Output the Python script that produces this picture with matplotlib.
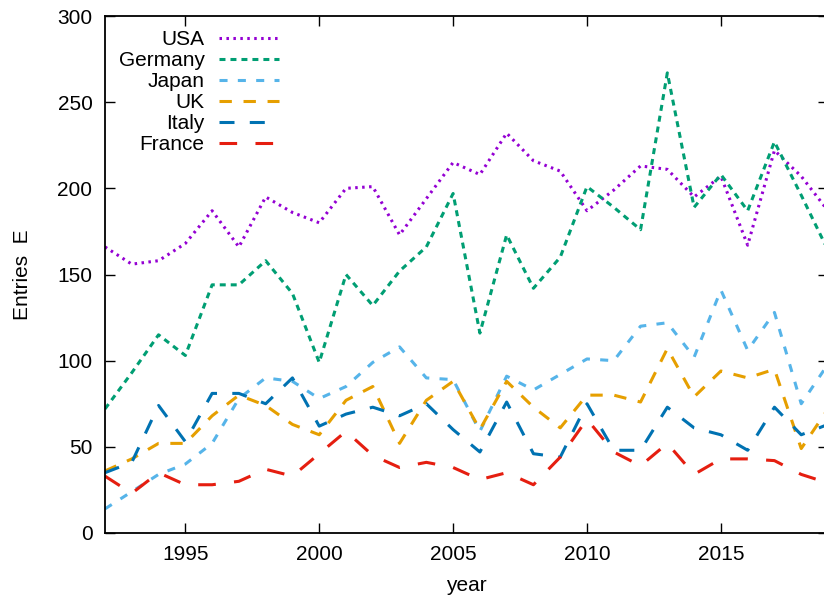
import matplotlib
matplotlib.use("Agg")
import matplotlib.pyplot as plt

# Yearly entries per country
years = list(range(1992, 2020))
usa = [166, 156, 158, 168, 187, 166, 195, 186, 180, 200, 201, 173, 194, 215,
       208, 232, 216, 210, 187, 199, 213, 211, 195, 207, 167, 222, 207, 187]
germany = [72, 93, 115, 103, 144, 144, 158, 139, 99, 150, 132, 152, 166, 197,
           116, 173, 142, 160, 201, 189, 176, 267, 189, 208, 187, 227, 196, 164]
japan = [14, 24, 34, 40, 52, 78, 90, 88, 78, 85, 99, 108, 90, 89,
         59, 91, 83, 92, 101, 100, 120, 122, 102, 141, 106, 128, 75, 98]
uk = [36, 43, 52, 52, 68, 80, 74, 63, 57, 77, 85, 52, 77, 88,
      60, 88, 73, 61, 80, 80, 76, 107, 79, 94, 90, 95, 49, 72]
italy = [35, 41, 74, 53, 81, 81, 75, 90, 62, 69, 73, 68, 75, 60,
         47, 76, 46, 44, 75, 48, 48, 73, 61, 57, 48, 73, 57, 63]
france = [33, 23, 35, 28, 28, 30, 37, 33, 46, 59, 45, 38, 41, 38,
          31, 35, 28, 44, 66, 47, 39, 52, 34, 43, 43, 42, 34, 29]

labels = ["USA", "Germany", "Japan", "UK", "Italy", "France"]
colors = ["#9400D3", "#009E73", "#56B4E9", "#E69F00", "#0072B2", "#E51E10"]
dashes = [(0, (1.8, 3.2)), (0, (4.3, 3.6)), (0, (5.8, 7.4)),
          (0, (8.9, 8.4)), (0, (10.8, 11.0)), (0, (12.7, 13.2))]

plt.rcParams["font.family"] = ["Liberation Sans", "DejaVu Sans"]
plt.rcParams["lines.scale_dashes"] = False

fig = plt.figure(figsize=(8.24, 6), dpi=100)
ax = fig.add_axes([105 / 824, 67 / 600, 723 / 824, 517 / 600])

for vals, lab, col, ls in zip([usa, germany, japan, uk, italy, france],
                              labels, colors, dashes):
    ax.plot(years, vals, color=col, lw=2.2, linestyle=ls, label=lab)

ax.set_xlim(1992, 2019)
ax.set_ylim(0, 300)
ax.set_xticks(range(1995, 2019, 5))
ax.set_yticks(range(0, 301, 50))
ax.tick_params(direction="in", length=7.2, width=1.0, top=True, right=True,
               labelsize=15, pad=9, colors="black")
for sp in ax.spines.values():
    sp.set_linewidth(1.3)

ax.set_xlabel("year", fontsize=15, labelpad=8)
ax.set_ylabel("Entries  E", fontsize=15, labelpad=18)

ax.legend(loc="upper left", bbox_to_anchor=(0.019, 0.973), frameon=False,
          markerfirst=False, fontsize=15, handlelength=2.9,
          handletextpad=0.67, labelspacing=0.1, borderpad=0,
          borderaxespad=0)

fig.savefig("out.png", dpi=100)
